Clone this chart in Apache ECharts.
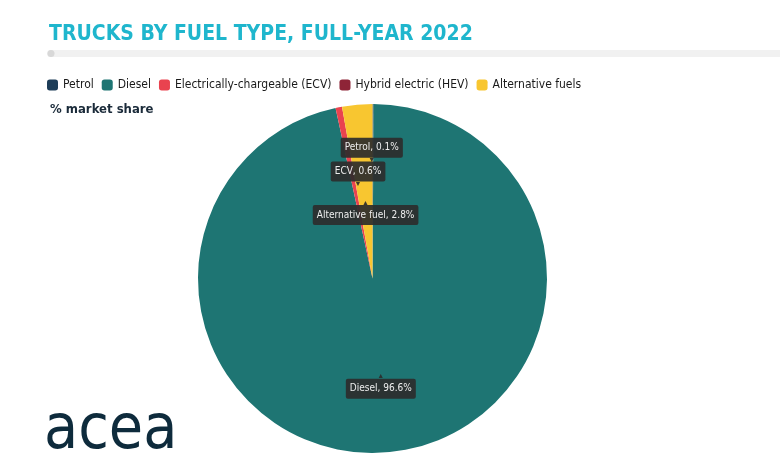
<!DOCTYPE html>
<html>
<head>
<meta charset="utf-8">
<script src="https://cdn.jsdelivr.net/npm/echarts@6/dist/echarts.min.js"></script>
<style>
  html, body { margin: 0; padding: 0; background: #fff; }
  #main { width: 780px; height: 470px; }
</style>
</head>
<body>
<div id="main"></div>
<script>
// data
var fuelTypes = ['Petrol', 'Diesel', 'Electrically-chargeable (ECV)', 'Hybrid electric (HEV)', 'Alternative fuels'];
var shares = [0.1, 96.6, 0.6, 0, 2.8];
var shortNames = ['Petrol', 'Diesel', 'ECV', '', 'Alternative fuel'];
var colors = ['#1d3d58', '#1e7573', '#e9434f', '#8e2437', '#f8c630'];

// label placement (offset from the slice's inside point, tail up or down)
var labelOffsets = [[-1, -38], [-1, 18], [3, -16], [0, 0], [1, 24]];
var tailUp = [false, true, false, false, true];

var condensed = '"DejaVu Sans Condensed", "Liberation Sans Narrow", Roboto, sans-serif';

var myChart = echarts.init(document.getElementById('main'));

var pieData = fuelTypes.map(function (name, i) {
    var txt = shortNames[i] + ', ' + shares[i] + '%';
    return {
        name: name,
        value: shares[i],
        itemStyle: { color: colors[i] },
        label: {
            show: shortNames[i] !== '',
            offset: labelOffsets[i],
            formatter: tailUp[i] ? '{tail|▲}\n{box|' + txt + '}' : '{box|' + txt + '}\n{tail|▼}'
        }
    };
});

var option = {
    backgroundColor: '#fff',
    animation: false,
    title: [{
        text: 'TRUCKS BY FUEL TYPE, FULL-YEAR 2022',
        left: 44,
        top: 19,
        textStyle: {
            color: '#1fb6cd',
            fontFamily: condensed,
            fontWeight: 'bold',
            fontSize: 21
        }
    }, {
        text: '% market share',
        left: 45,
        top: 98,
        textStyle: {
            color: '#1b2b3a',
            fontFamily: condensed,
            fontWeight: 'bold',
            fontSize: 13
        }
    }],
    legend: {
        data: fuelTypes,
        left: 42,
        top: 74,
        itemWidth: 11,
        itemHeight: 11,
        itemGap: 8,
        icon: 'roundRect',
        textStyle: {
            color: '#1a1a1a',
            fontFamily: condensed,
            fontSize: 12,
            padding: [0, 0, 0, 0]
        }
    },
    graphic: [{
        type: 'rect',
        shape: { x: 47, y: 50, width: 740, height: 7, r: 3.5 },
        style: { fill: '#f1f1f1' }
    }, {
        type: 'circle',
        shape: { cx: 51, cy: 53.5, r: 3.5 },
        style: { fill: '#d8d8d8' }
    }, {
        type: 'text',
        left: 44,
        top: 401,
        style: {
            text: 'acea',
            fill: '#0e2b3c',
            font: 'normal 62px "DejaVu Sans Condensed", sans-serif'
        }
    }],
    series: [{
        name: 'Market share',
        type: 'pie',
        center: [372.5, 278.5],
        radius: [0, 174.5],
        startAngle: 90,
        clockwise: true,
        avoidLabelOverlap: false,
        labelLayout: { hideOverlap: false },
        silent: true,
        label: {
            position: 'inside',
            rich: {
                box: {
                    backgroundColor: 'rgba(45,45,45,0.92)',
                    color: '#eee',
                    fontFamily: condensed,
                    fontSize: 10,
                    padding: [5, 4, 5, 4],
                    borderRadius: 2,
                    lineHeight: 20
                },
                tail: {
                    color: 'rgba(45,45,45,0.92)',
                    fontSize: 7,
                    lineHeight: 5,
                    padding: 0
                }
            }
        },
        labelLine: { show: false },
        data: pieData
    }]
};

myChart.setOption(option);
</script>
</body>
</html>
